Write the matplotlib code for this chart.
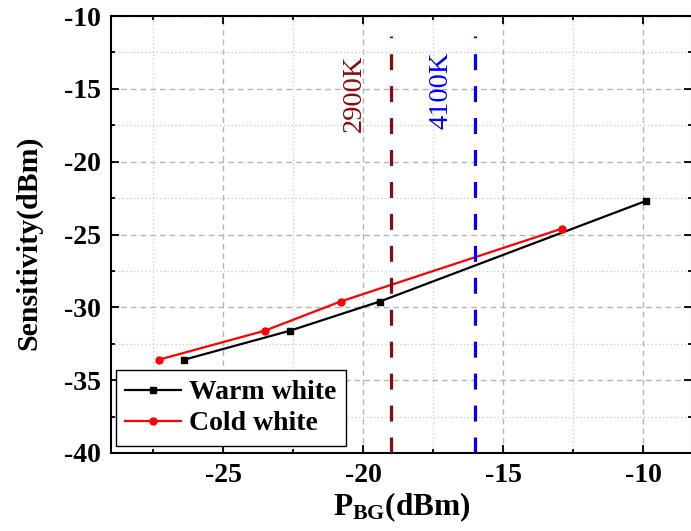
import numpy as np
import matplotlib
matplotlib.use("Agg")
import matplotlib.pyplot as plt
from matplotlib.ticker import MultipleLocator

plt.rcParams['font.family'] = 'Liberation Serif'
plt.rcParams['axes.unicode_minus'] = False
plt.rcParams['mathtext.fontset'] = 'custom'
plt.rcParams['mathtext.rm'] = 'Liberation Serif:bold'
plt.rcParams['mathtext.it'] = 'Liberation Serif:bold'
plt.rcParams['mathtext.bf'] = 'Liberation Serif:bold'

# data
warm_x = [-26.4, -22.6, -19.4, -9.9]
warm_y = [-33.6, -31.6, -29.6, -22.7]
cold_x = [-27.3, -23.5, -20.8, -12.9]
cold_y = [-33.6, -31.6, -29.6, -24.6]
cct_x = [-19.0, -16.0]
cct_labels = ['2900K', '4100K']
cct_colors = ['#8B0A0A', '#0000FF']

fig = plt.figure(figsize=(6.91, 5.31), dpi=100)
ax = fig.add_axes([111 / 691, 78 / 531, 581 / 691, 437 / 531])

ax.set_xlim(-29, -8.25)
ax.set_ylim(-40, -10)

ax.xaxis.set_major_locator(MultipleLocator(5))
ax.xaxis.set_minor_locator(MultipleLocator(2.5))
ax.yaxis.set_major_locator(MultipleLocator(5))
ax.yaxis.set_minor_locator(MultipleLocator(2.5))

ax.grid(which='major', color='#b4b4b4', linestyle=(0, (4, 3)), linewidth=1.0)
ax.grid(which='minor', color='#c8c8c8', linestyle=(0, (1, 2)), linewidth=0.9)
ax.set_axisbelow(True)

ax.plot(warm_x, warm_y, color='black', marker='s', markersize=4.5, linewidth=1.6,
        label='Warm white', zorder=3)
ax.plot(cold_x, cold_y, color='red', marker='o', markersize=5, linewidth=1.6,
        label='Cold white', zorder=3)

# colour temperature markers
for x, lab, c, tx, ty in zip(cct_x, cct_labels, cct_colors, [-20.3, -17.2], [-15.3, -15.1]):
    ax.vlines(x, -40, -11.4, colors=c, linewidth=2.3, linestyles=(0, (5, 5)), zorder=4)
    ax.text(tx, ty, lab, rotation=90, color=c, fontsize=20.5,
            ha='center', va='center')

ax.tick_params(which='both', direction='in', top=True, right=True, width=1.3)
ax.tick_params(which='major', length=6, labelsize=20, pad=7)
ax.tick_params(which='minor', length=3)
for lab in ax.get_xticklabels() + ax.get_yticklabels():
    lab.set_fontweight('bold')
for s in ax.spines.values():
    s.set_linewidth(1.5)

ax.set_xlabel(r'P$_{\rm BG}$(dBm)', fontsize=22.5, fontweight='bold', labelpad=2)
ax.set_ylabel('Sensitivity(dBm)', fontsize=21.5, fontweight='bold')
ax.yaxis.set_label_coords(-0.118, 0.48)

leg = ax.legend(loc='lower left', bbox_to_anchor=(0.008, 0.016), borderaxespad=0,
                fancybox=False, edgecolor='black', framealpha=1,
                prop={'weight': 'bold', 'size': 20}, handlelength=2.0,
                handletextpad=0.3, borderpad=0.35, labelspacing=0.2)
leg.get_frame().set_linewidth(1.0)

fig.savefig('out.png', dpi=100)
